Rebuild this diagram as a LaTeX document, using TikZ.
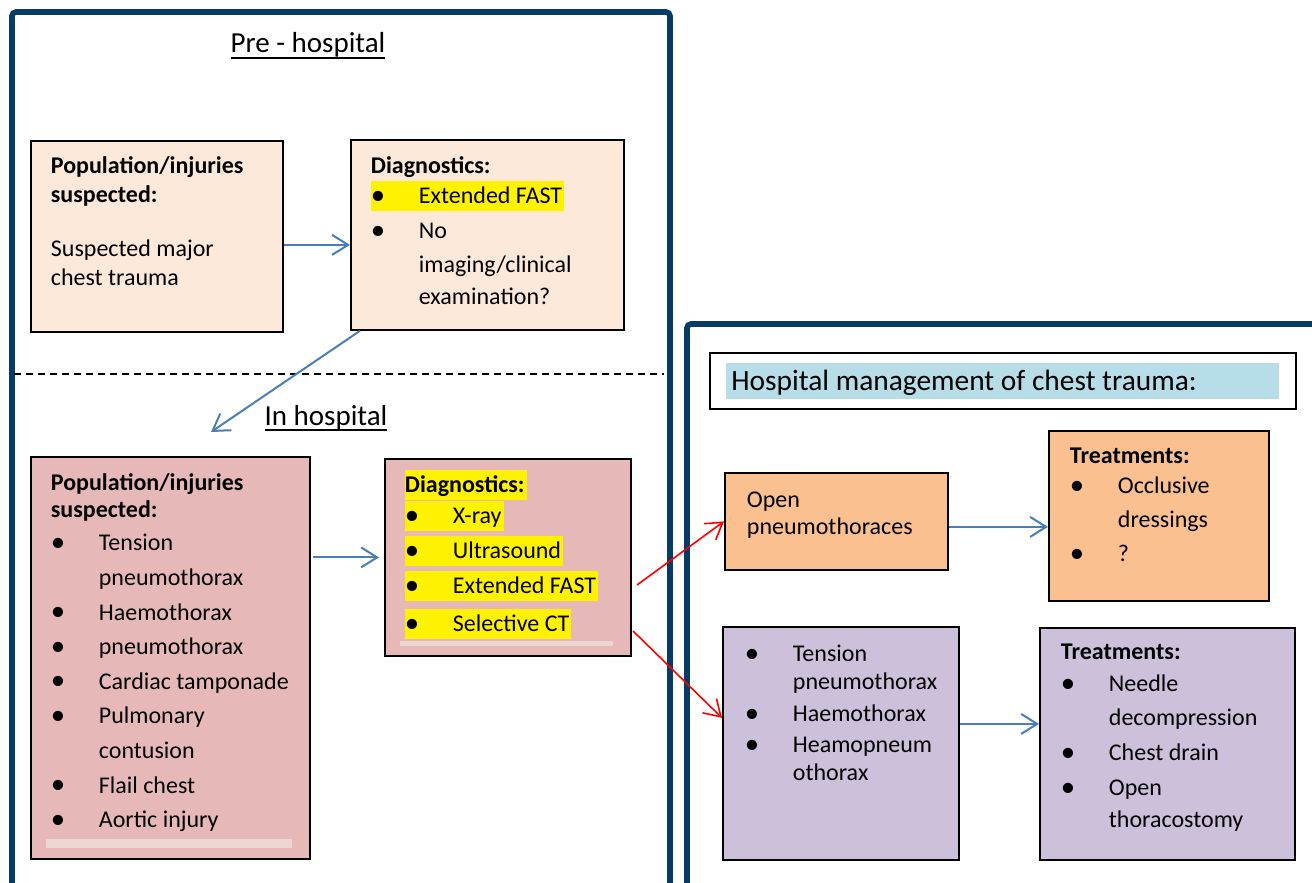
\documentclass[tikz,border=0pt]{standalone}
\usepackage{fontspec}
\setmainfont{Carlito}
\usetikzlibrary{arrows.meta}

\definecolor{framenavy}{HTML}{063B66}
\definecolor{arrowblue}{HTML}{4A7EBB}
\definecolor{peach}{HTML}{FDE9D9}
\definecolor{rose}{HTML}{E6B9B8}
\definecolor{roselight}{HTML}{EDD5D4}
\definecolor{apricot}{HTML}{FAC090}
\definecolor{lilac}{HTML}{CCC0DA}
\definecolor{hlblue}{HTML}{B7DDE8}

\newcommand{\bitem}[1]{\mbox{\makebox[24pt][l]{\raisebox{-0.3pt}{\scalebox{1.2}{\textbullet}}}#1}}
\newcommand{\bcont}[1]{\mbox{\hspace*{24pt}#1}}
\newcommand{\hlite}[1]{{\setlength{\fboxsep}{0pt}\colorbox{yellow}{\rule[-3.5pt]{0pt}{15pt}#1\hspace{1pt}}}}
\newcommand{\hdul}[1]{\setbox0=\hbox{#1}\rlap{\rule[-2.8pt]{\wd0}{1pt}}\box0}

\begin{document}
\begin{tikzpicture}
[
	x=0.5pt, y=-0.5pt,
	flowbox/.style={draw=black,line width=0.9pt,anchor=north west,inner xsep=10pt,inner ysep=0pt},
	leading/.style={font={\fontsize{12}{#1}\selectfont\lineskiplimit=-20pt}},
	flow/.style={draw=arrowblue,line width=1pt,-{Straight Barb[length=8pt,width=10pt]}},
	redflow/.style={draw=red,line width=0.8pt,-{Straight Barb[length=8pt,width=10pt]}},
	heading/.style={anchor=base,inner sep=0pt,font=\fontsize{14.5}{17}\selectfont},
	panel/.style={draw=framenavy,line width=2.8pt,rounded corners=2pt}
]

	\useasboundingbox (0,0) rectangle (1312,883);
	\clip (0,0) rectangle (1312,883);

	% panels
	\draw[panel] (12,900) -- (12,12) -- (670,12) -- (670,900);
	\draw[panel] (687,900) -- (687,324) -- (1330,324);
	\draw[line width=0.8pt,dash pattern=on 3.5pt off 2.5pt] (14,374) -- (664,374);

	\node[heading] (preHosp) at (308,53) {\hdul{Pre - hospital}};
	\node[heading] (inHosp) at (326,425) {\hdul{In hospital}};

	% pre-hospital
	\node[flowbox,fill=peach,leading=14.5pt] (popA) at (30,140)
	  {\parbox[t][95.5pt][t]{106pt}{\vspace*{6.35pt}\strut\textbf{Population/injuries}\\\textbf{suspected:}\\[12.5pt]Suspected major\\chest trauma}};
	\node[flowbox,fill=peach,leading=16.5pt] (diagA) at (350,139)
	  {\parbox[t][95pt][t]{116.5pt}{\vspace*{5.45pt}\strut\textbf{Diagnostics:}\\[-1.5pt]\hlite{\bitem{Extended FAST}}\\[1pt]\bitem{No}\\[0.5pt]\bcont{imaging/clinical}\\[-0.5pt]\bcont{examination?}}};

	% in hospital
	\node[flowbox,fill=rose,leading=17.3pt] (popB) at (30,456)
	  {\parbox[t][201pt][t]{119.5pt}{\vspace*{4.9pt}\strut\textbf{Population/injuries}\\[-3.8pt]\textbf{suspected:}\\[-0.8pt]\bitem{Tension}\\\bcont{pneumothorax}\\\bitem{Haemothorax}\\\bitem{pneumothorax}\\\bitem{Cardiac tamponade}\\\bitem{Pulmonary}\\\bcont{contusion}\\\bitem{Flail chest}\\\bitem{Aortic injury}}};
	\node[flowbox,fill=rose,leading=17.5pt] (diagB) at (384,458)
	  {\parbox[t][98.5pt][t]{103pt}{\vspace*{4.75pt}\strut\hlite{\textbf{Diagnostics:}}\\[-2pt]\hlite{\bitem{X-ray}}\\\hlite{\bitem{Ultrasound}}\\\hlite{\bitem{Extended FAST}}\\[1.5pt]\hlite{\bitem{Selective CT}}}};
	\fill[roselight] (46,839) rectangle (292,848);
	\fill[roselight] (400,641) rectangle (613,646);

	% hospital management
	\node[draw=black,line width=0.9pt,fill=white,anchor=north west,inner sep=0pt,minimum width=293pt,minimum height=28pt,font=\fontsize{14.7}{18}\selectfont] (mgmt) at (709,352)
	  {\setlength{\fboxsep}{0pt}\colorbox{hlblue}{\makebox[276.5pt][l]{\rule[-4pt]{0pt}{18pt}\hspace{2.5pt}Hospital management of chest trauma:}}};
	\node[flowbox,fill=apricot,leading=13.5pt,inner xsep=11pt] (openP) at (724,472)
	  {\parbox[t][48.5pt][t]{89.5pt}{\vspace*{8.05pt}\strut Open\\pneumothoraces}};
	\node[flowbox,fill=apricot,leading=17pt,inner xsep=10.5pt] (treatA) at (1048,430)
	  {\parbox[t][85pt][t]{89pt}{\vspace*{4.6pt}\strut\textbf{Treatments:}\\[-2pt]\bitem{Occlusive}\\\bcont{dressings}\\\bitem{?}}};
	\node[flowbox,fill=lilac,leading=15pt,inner xsep=11pt] (tensP) at (722,626)
	  {\parbox[t][116.5pt][t]{96pt}{\vspace*{7pt}\strut\bitem{Tension}\\[-1pt]\bcont{pneumothorax}\\[1pt]\bitem{Haemothorax}\\[0.5pt]\bitem{Heamopneum}\\[-1pt]\bcont{othorax}}};
	\node[flowbox,fill=lilac,leading=17pt,inner xsep=10.5pt] (treatB) at (1039,627)
	  {\parbox[t][116pt][t]{106.5pt}{\vspace*{4.1pt}\strut\textbf{Treatments:}\\[-1pt]\bitem{Needle}\\\bcont{decompression}\\[0.5pt]\bitem{Chest drain}\\[0.5pt]\bitem{Open}\\[-1pt]\bcont{thoracostomy}}};

	% connectors
	\coordinate (inTip) at (211,432);
	\coordinate (r1) at (637,585);
	\coordinate (r2) at (633,631);
	\path ([yshift=-4.25pt]popA.east) coordinate (popAout);
	\path ([yshift=-2.75pt]openP.east) coordinate (openPout);
	\path ([yshift=9.75pt]tensP.east) coordinate (tensPout);

	\draw[flow] (popAout) -- (popAout -| diagA.west);
	\draw[flow] ([xshift=5pt]diagA.south west) -- (inTip);
	\draw[flow,shorten <=1pt,shorten >=2.5pt] (diagB.west -| popB.east) -- (diagB.west);
	\draw[flow] (openPout) -- (openPout -| treatA.west);
	\draw[flow] (tensPout) -- (tensPout -| treatB.west);
	\draw[redflow] (r1) -- (openP.west);
	\draw[redflow] (r2) -- ([yshift=12.75pt]tensP.west);

\end{tikzpicture}
\end{document}
